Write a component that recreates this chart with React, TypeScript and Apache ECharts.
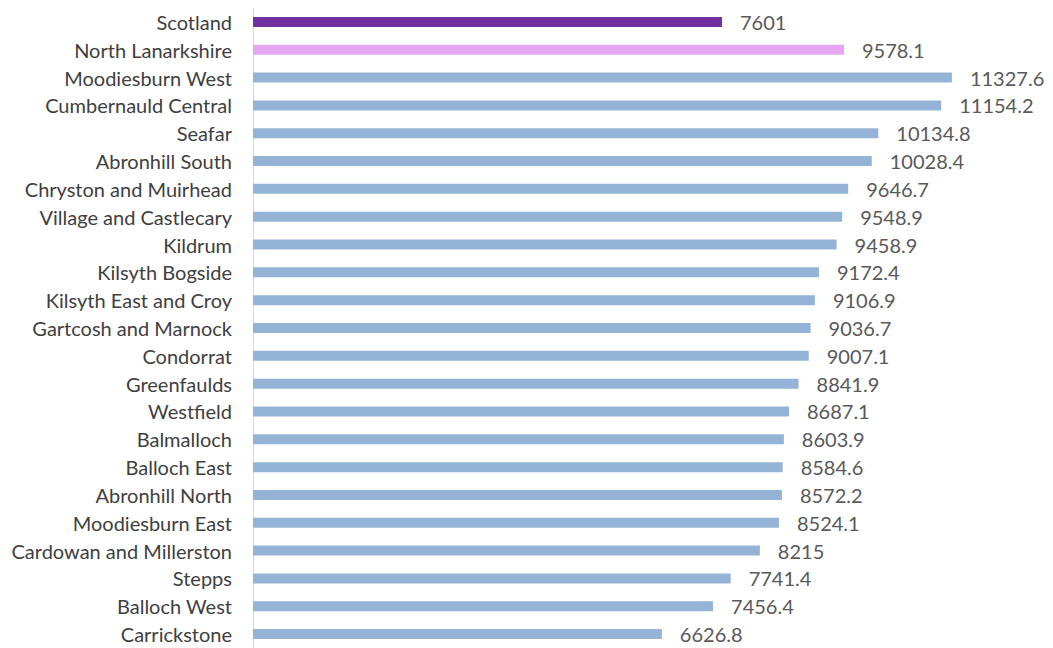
import React, { useEffect, useRef } from "react";
import * as echarts from "echarts";

const categories = [
  "Scotland",
  "North Lanarkshire",
  "Moodiesburn West",
  "Cumbernauld Central",
  "Seafar",
  "Abronhill South",
  "Chryston and Muirhead",
  "Village and Castlecary",
  "Kildrum",
  "Kilsyth Bogside",
  "Kilsyth East and Croy",
  "Gartcosh and Marnock",
  "Condorrat",
  "Greenfaulds",
  "Westfield",
  "Balmalloch",
  "Balloch East",
  "Abronhill North",
  "Moodiesburn East",
  "Cardowan and Millerston",
  "Stepps",
  "Balloch West",
  "Carrickstone",
];

const values = [
  7601, 9578.1, 11327.6, 11154.2, 10134.8, 10028.4, 9646.7, 9548.9, 9458.9,
  9172.4, 9106.9, 9036.7, 9007.1, 8841.9, 8687.1, 8603.9, 8584.6, 8572.2,
  8524.1, 8215, 7741.4, 7456.4, 6626.8,
];

const colorScotland = "#7030A0";
const colorCouncil = "#E6A6F2";
const colorWard = "#95B3D7";

export default function App() {
  const ref = useRef<HTMLDivElement>(null);
  useEffect(() => {
    if (!ref.current) return;
    const chart = echarts.init(ref.current, null, { renderer: "svg" });
    const data = values.map((v, i) => ({
      value: v,
      itemStyle: {
        color: i === 0 ? colorScotland : i === 1 ? colorCouncil : colorWard,
      },
    }));
    chart.setOption({
      animation: false,
      grid: { left: 253, top: 8, width: 740.4, height: 644 },
      xAxis: {
        type: "value",
        min: 0,
        max: 12000,
        show: false,
      },
      yAxis: {
        type: "category",
        data: categories,
        inverse: true,
        axisLine: { show: true, lineStyle: { color: "#D9D9D9", width: 1 } },
        axisTick: { show: false },
        axisLabel: {
          color: "#404040",
          fontFamily: "Lato",
          fontSize: 20,
          margin: 21,
          padding: [0, 0, 2, 0],
        },
      },
      series: [
        {
          type: "bar",
          data,
          barWidth: 10,
          label: {
            show: true,
            position: "right",
            distance: 18,
            color: "#595959",
            fontFamily: "Lato",
            fontSize: 20,
          },
        },
      ],
    });
    return () => chart.dispose();
  }, []);
  return (
    <div
      ref={ref}
      style={{ position: "fixed", left: 0, top: 0, width: 1053, height: 648, background: "#fff" }}
    />
  );
}
